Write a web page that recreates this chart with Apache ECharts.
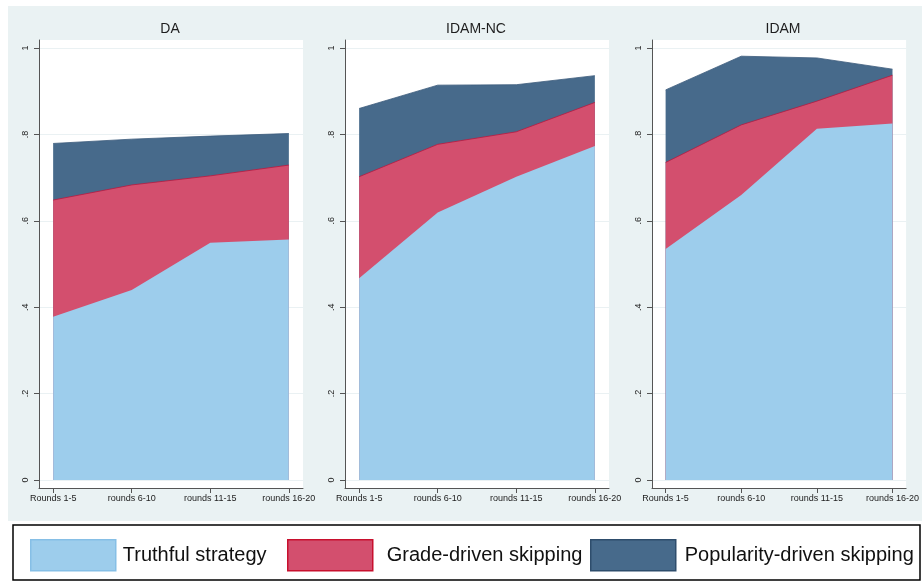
<!DOCTYPE html>
<html>
<head>
<meta charset="utf-8">
<script src="https://cdn.jsdelivr.net/npm/echarts@6/dist/echarts.min.js"></script>
<style>
html,body{margin:0;padding:0;background:#fff;}
#c{width:922px;height:582px;}
</style>
</head>
<body>
<div id="c"></div>
<script>
// ---- data ----
const panels = ['DA', 'IDAM-NC', 'IDAM'];
const categories = ['Rounds 1-5', 'rounds 6-10', 'rounds 11-15', 'rounds 16-20'];
const seriesNames = ['Truthful strategy', 'Grade-driven skipping', 'Popularity-driven skipping'];
const yTicks = [0, 0.2, 0.4, 0.6, 0.8, 1];
const yTickLabels = ['0', '.2', '.4', '.6', '.8', '1'];

// shares by strategy (stacked)
const daTruthful = [0.378, 0.440, 0.549, 0.557];
const daGrade = [0.270, 0.243, 0.155, 0.172];
const daPopularity = [0.131, 0.106, 0.092, 0.073];

const ncTruthful = [0.467, 0.619, 0.702, 0.773];
const ncGrade = [0.235, 0.158, 0.104, 0.101];
const ncPopularity = [0.158, 0.137, 0.109, 0.062];

const idTruthful = [0.535, 0.660, 0.813, 0.825];
const idGrade = [0.200, 0.162, 0.064, 0.112];
const idPopularity = [0.168, 0.159, 0.100, 0.014];

const panelData = [
  [daTruthful, daGrade, daPopularity],
  [ncTruthful, ncGrade, ncPopularity],
  [idTruthful, idGrade, idPopularity]
];

// ---- styles ----
const FONT = "'Liberation Sans', Arial, sans-serif";
const fills = ['#9dcdec', '#d34f6e', '#476a8b'];
const lines = ['#9dcdec', '#b8193f', '#3b5b7b'];
const swatchBorders = ['#86bfe6', '#c8102e', '#2e4d6c'];
const gridLefts = [39, 345, 652];
const gridWidth = 264;
const gridTop = 40, gridHeight = 448;

const grids = [], xAxes = [], yAxes = [], series = [], titles = [];
panels.forEach((p, k) => {
  grids.push({ left: gridLefts[k], top: gridTop, width: gridWidth, height: gridHeight,
    show: true, backgroundColor: '#ffffff', borderWidth: 0, containLabel: false });
  titles.push({ text: p, left: gridLefts[k] + gridWidth / 2 - 1, top: 22, textAlign: 'center', padding: 0,
    textStyle: { fontFamily: FONT, fontSize: 14, fontWeight: 'normal', color: '#1e1e1e' } });
  xAxes.push({ gridIndex: k, type: 'value', min: -0.18, max: 3.18,
    axisLine: { show: true, onZero: false, lineStyle: { color: '#555', width: 1 } },
    axisTick: { show: true, length: 5, customValues: [0, 1, 2, 3], lineStyle: { color: '#555' } },
    axisLabel: { customValues: [0, 1, 2, 3], margin: 6, fontFamily: FONT, fontSize: 9, color: '#222',
      formatter: v => categories[Math.round(v)] },
    splitLine: { show: false } });
  yAxes.push({ gridIndex: k, type: 'value', min: -0.0185, max: 1.0185,
    axisLine: { show: true, onZero: false, lineStyle: { color: '#555', width: 1 } },
    axisTick: { show: true, length: 5, customValues: yTicks, lineStyle: { color: '#555' } },
    axisLabel: { customValues: yTicks, rotate: 90, margin: 9, fontFamily: FONT, fontSize: 9, color: '#222',
      formatter: v => yTickLabels[yTicks.findIndex(t => Math.abs(t - v) < 1e-6)] },
    splitLine: { show: true, lineStyle: { color: '#eaf1f3', width: 1 } } });
  // cumulative tops, drawn back to front (top layer first, then layers below over it)
  const comps = panelData[k];
  const cum = comps.map((_, s) => categories.map((c, i) => {
    let t = 0; for (let j = 0; j <= s; j++) t += comps[j][i]; return +t.toFixed(4);
  }));
  [2, 1, 0].forEach((s, order) => {
    series.push({
      name: seriesNames[s], type: 'line', xAxisIndex: k, yAxisIndex: k,
      symbol: 'none', silent: true,
      data: cum[s].map((v, i) => [i, v]),
      lineStyle: { color: lines[s], width: s === 0 ? 0 : 0.8 },
      itemStyle: { color: fills[s] },
      areaStyle: { color: fills[s], opacity: 1, origin: 0 },
      z: 2 + order
    });
  });
});

const legendLefts = [30, 287, 590];
const legendPads = [2, 9, 4];
const legends = seriesNames.map((n, s) => ({
  left: legendLefts[s], top: 539, padding: 0, orient: 'horizontal', selectedMode: false,
  itemWidth: 85, itemHeight: 31, icon: 'rect',
  data: [{ name: n, itemStyle: { color: fills[s], borderColor: swatchBorders[s], borderWidth: 1.5 } }],
  textStyle: { fontFamily: FONT, fontSize: 20, color: '#111', padding: [0, 0, 0, legendPads[s]] }
}));

const chart = echarts.init(document.getElementById('c'), null, { renderer: 'canvas' });
chart.setOption({
  animation: false,
  backgroundColor: '#ffffff',
  graphic: [
    { type: 'rect', z: -10, silent: true, shape: { x: 8, y: 6, width: 914, height: 515 },
      style: { fill: '#eaf2f3' } },
    { type: 'rect', z: -10, silent: true, shape: { x: 13, y: 525, width: 907, height: 55 },
      style: { fill: '#ffffff', stroke: '#000', lineWidth: 1.5 } }
  ],
  title: titles,
  grid: grids,
  xAxis: xAxes,
  yAxis: yAxes,
  legend: legends,
  series: series
});
</script>
</body>
</html>
